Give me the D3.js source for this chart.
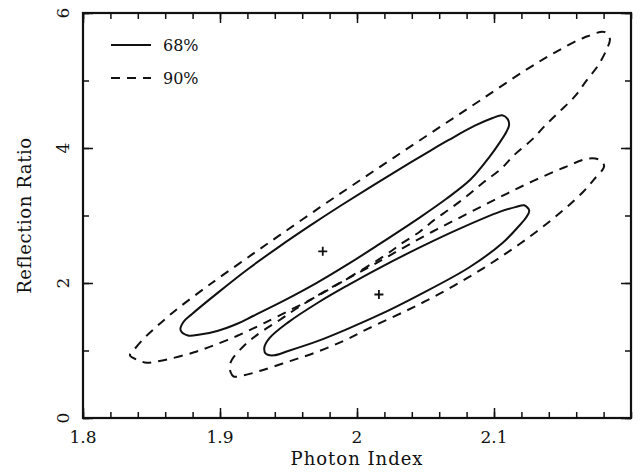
<!DOCTYPE html>
<html>
<head>
<meta charset="utf-8">
<script src="https://cdn.jsdelivr.net/npm/d3@7"></script>
<style>
  body { margin: 0; background: #fff; }
  svg text { font-family: "DejaVu Serif", serif; fill: #111; }
  .tick line { stroke: #111; stroke-width: 1.5; }
</style>
</head>
<body>
<svg id="chart" width="642" height="475"></svg>
<script>
// contour vertices: [photon index, reflection ratio]
var upper68 = [
    [1.8712, 1.304], [1.8733, 1.422], [1.8796, 1.541], [1.899, 1.865], [1.921, 2.215],
    [1.943, 2.536], [1.966, 2.853], [1.988, 3.144], [2.010, 3.425], [2.032, 3.698],
    [2.054, 3.966], [2.067, 4.119], [2.086, 4.330], [2.099, 4.444], [2.106, 4.486],
    [2.110, 4.428], [2.111, 4.339], [2.109, 4.236], [2.104, 4.076], [2.097, 3.877],
    [2.083, 3.536], [2.065, 3.244], [2.046, 2.973], [2.016, 2.572], [1.994, 2.286],
    [1.970, 1.994], [1.947, 1.742], [1.9241, 1.511], [1.9130, 1.400], [1.8980, 1.289],
    [1.8854, 1.237], [1.8766, 1.222]
];
var upper90 = [
    [1.8343, 0.929], [1.8383, 1.037], [1.8455, 1.200], [1.8530, 1.341], [1.8604, 1.474],
    [1.8693, 1.624], [1.8894, 1.932], [1.8991, 2.074], [1.9235, 2.424], [1.9458, 2.739],
    [1.9731, 3.123], [1.9976, 3.459], [2.0272, 3.862], [2.0598, 4.301], [2.0901, 4.708],
    [2.1228, 5.150], [2.1450, 5.421], [2.1656, 5.634], [2.1810, 5.717], [2.1846, 5.612],
    [2.1823, 5.465], [2.1761, 5.227], [2.1672, 4.990], [2.1588, 4.760], [2.1477, 4.538],
    [2.1372, 4.330], [2.1275, 4.120], [2.1149, 3.899], [2.1052, 3.693], [2.0926, 3.495],
    [2.0807, 3.296], [2.0680, 3.101], [2.0555, 2.920], [2.0458, 2.759], [2.0332, 2.594],
    [2.0213, 2.421], [1.9939, 2.077], [1.9696, 1.791], [1.9420, 1.505], [1.9275, 1.359],
    [1.9127, 1.218], [1.8958, 1.079], [1.8811, 0.973], [1.8634, 0.877], [1.8518, 0.830],
    [1.8466, 0.818], [1.8408, 0.852]
];
var lower68 = [
    [1.9323, 1.036], [1.9361, 1.182], [1.9495, 1.413], [1.9717, 1.711], [1.9938, 1.972],
    [2.0145, 2.203], [2.0455, 2.524], [2.0750, 2.806], [2.1045, 3.058], [2.1156, 3.124],
    [2.1221, 3.151], [2.1257, 3.073], [2.1234, 2.970], [2.1179, 2.837], [2.1062, 2.593],
    [2.0818, 2.230], [2.0448, 1.818], [2.0153, 1.519], [1.9932, 1.321], [1.9711, 1.138],
    [1.9491, 0.988], [1.9395, 0.929], [1.9337, 0.947]
];
var lower90 = [
    [1.9072, 0.779], [1.9077, 0.681], [1.9099, 0.615], [1.9172, 0.631], [1.9320, 0.716],
    [1.9511, 0.843], [1.9709, 0.979], [1.9908, 1.148], [2.0078, 1.320], [2.0351, 1.581],
    [2.0499, 1.730], [2.0646, 1.889], [2.0794, 2.061], [2.0927, 2.225], [2.1053, 2.391],
    [2.1187, 2.578], [2.1312, 2.764], [2.1431, 2.953], [2.1543, 3.145], [2.1655, 3.360],
    [2.1729, 3.533], [2.1804, 3.732], [2.1769, 3.825], [2.1689, 3.844], [2.1512, 3.711],
    [2.1291, 3.516], [2.1099, 3.329], [2.0922, 3.147], [2.0730, 2.948], [2.0553, 2.763],
    [2.0383, 2.573], [2.0235, 2.403], [2.0092, 2.240], [1.9814, 1.933], [1.9570, 1.637],
    [1.9436, 1.452], [1.9311, 1.289], [1.9222, 1.156], [1.9147, 1.012], [1.9088, 0.868]
];
// best fit positions
var bestFits = [[1.975, 2.47], [2.016, 1.83]];

var xTicks = [1.8, 1.9, 2.0, 2.1];
var xTickLabels = ["1.8", "1.9", "2", "2.1"];
var yTicks = [0, 2, 4, 6];
var yTickLabels = ["0", "2", "4", "6"];
var legendLabels = ["68%", "90%"];

var L = 83, R = 631, T = 13, B = 418;
var svg = d3.select("#chart");

var x = d3.scaleLinear().domain([1.8, 2.2]).range([L, R]);
var y = d3.scaleLinear().domain([0, 6]).range([B, T]);

// ticks, all pointing inwards
function tickAxis(axis, vals, size) {
    return axis.tickValues(vals).tickSizeInner(size).tickSizeOuter(0).tickFormat("");
}
function addTicks(makeAxis, pos, minor, major) {
    svg.append("g").attr("transform", pos).call(tickAxis(makeAxis(), minor, -6)).select(".domain").remove();
    svg.append("g").attr("transform", pos).call(tickAxis(makeAxis(), major, -10)).select(".domain").remove();
}
addTicks(function() { return d3.axisBottom(x); }, "translate(0," + B + ")", x.ticks(20), xTicks);
addTicks(function() { return d3.axisTop(x); }, "translate(0," + T + ")", x.ticks(20), xTicks);
addTicks(function() { return d3.axisLeft(y); }, "translate(" + L + ",0)", y.ticks(6), yTicks);
addTicks(function() { return d3.axisRight(y); }, "translate(" + R + ",0)", y.ticks(6), yTicks);

svg.append("rect")
    .attr("x", L).attr("y", T).attr("width", R - L).attr("height", B - T)
    .attr("fill", "none").attr("stroke", "#111").attr("stroke-width", 2.2);

// tick labels
svg.selectAll(".xlab").data(xTicks).enter().append("text")
    .attr("x", function(d) { return x(d); })
    .attr("y", B + 25)
    .attr("text-anchor", "middle")
    .attr("font-size", 17)
    .text(function(d, i) { return xTickLabels[i]; });

svg.selectAll(".ylab").data(yTicks).enter().append("text")
    .attr("transform", function(d) { return "translate(" + (L - 14) + "," + y(d) + ") rotate(-90)"; })
    .attr("text-anchor", "middle")
    .attr("font-size", 17)
    .text(function(d, i) { return yTickLabels[i]; });

svg.append("text")
    .attr("x", (L + R) / 2).attr("y", 465)
    .attr("text-anchor", "middle")
    .attr("font-size", 18)
    .attr("letter-spacing", 1)
    .text("Photon Index");

svg.append("text")
    .attr("transform", "translate(31," + ((T + B) / 2) + ") rotate(-90)")
    .attr("text-anchor", "middle")
    .attr("font-size", 18)
    .attr("letter-spacing", 0.6)
    .text("Reflection Ratio");

// contours
var line = d3.line()
    .x(function(d) { return x(d[0]); })
    .y(function(d) { return y(d[1]); })
    .curve(d3.curveCatmullRomClosed.alpha(0.5));

var contours = [
    [upper68, null], [lower68, null],
    [upper90, "9,7"], [lower90, "9,7"]
];
contours.forEach(function(c) {
    svg.append("path")
        .attr("d", line(c[0]))
        .attr("fill", "none")
        .attr("stroke", "#111")
        .attr("stroke-width", 2)
        .attr("stroke-dasharray", c[1]);
});

// best fit crosses
svg.selectAll(".fit").data(bestFits).enter().append("path")
    .attr("d", function(d) {
        var cx = x(d[0]), cy = y(d[1]), s = 4.5;
        return "M" + (cx - s) + "," + cy + "H" + (cx + s) + "M" + cx + "," + (cy - s) + "V" + (cy + s);
    })
    .attr("stroke", "#111")
    .attr("stroke-width", 1.8);

// legend
var legend = svg.append("g");
[null, "9,7"].forEach(function(dash, i) {
    var ly = 45 + i * 33;
    legend.append("line")
        .attr("x1", 111).attr("x2", 151).attr("y1", ly).attr("y2", ly)
        .attr("stroke", "#111").attr("stroke-width", 2)
        .attr("stroke-dasharray", dash);
    legend.append("text")
        .attr("x", 163).attr("y", ly + 6)
        .attr("font-size", 16)
        .text(legendLabels[i]);
});
</script>
</body>
</html>
